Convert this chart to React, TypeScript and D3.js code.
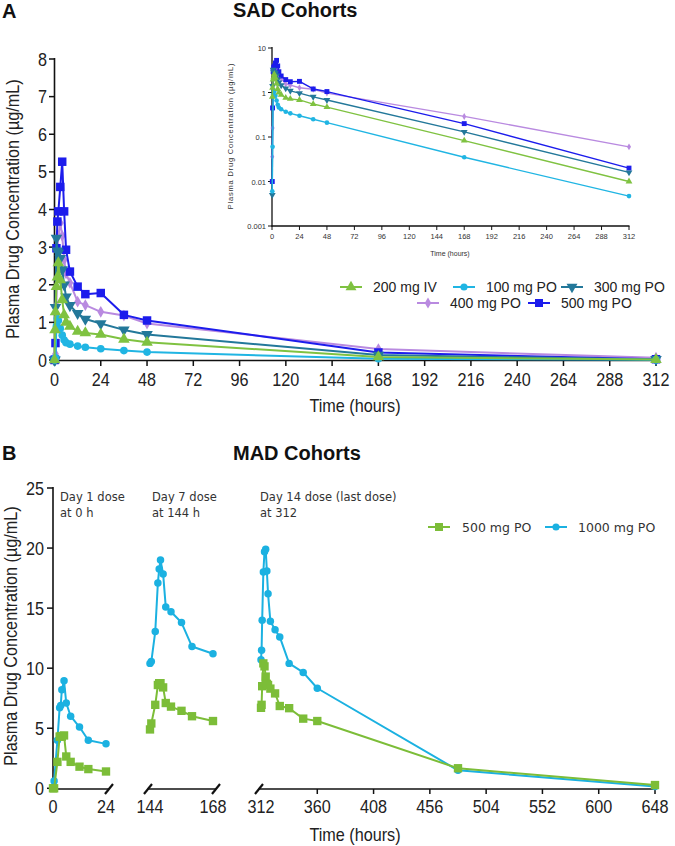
import React from 'react';
import * as d3 from 'd3';

// ---------- SAD data (panel A) ----------
const sadTimes = [0, 0.25, 0.5, 1, 1.5, 2, 3, 4, 5, 6, 8, 12, 16, 24, 36, 48, 168, 312];
const sad200IV = [0, 0.8, 1.28, 1.95, 2.2, 2.58, 2.13, 1.6, 1.2, 1.0, 0.89, 0.76, 0.72, 0.68, 0.55, 0.47, 0.083, 0.01];
const sad100PO = [0, 0.006, 0.06, 0.9, 1.1, 1.05, 0.84, 0.66, 0.53, 0.46, 0.42, 0.37, 0.34, 0.3, 0.25, 0.21, 0.035, 0.0047];
const sad300PO = [0, 0.005, 1.4, 3.24, 2.9, 2.85, 2.7, 2.4, 2.0, 1.68, 1.45, 1.24, 1.09, 0.97, 0.8, 0.68, 0.13, 0.016];
const sad400PO = [0, 0.036, 0.16, 1.45, 2.9, 3.3, 3.64, 3.3, 2.66, 2.3, 2.05, 1.55, 1.46, 1.28, 1.18, 0.97, 0.29, 0.06];
const sad500PO = [0, 0.01, 0.45, 2.97, 3.68, 3.95, 4.6, 5.27, 3.95, 2.93, 2.35, 1.95, 1.75, 1.78, 1.2, 1.05, 0.2, 0.02];
const sadXTicks = [0, 24, 48, 72, 96, 120, 144, 168, 192, 216, 240, 264, 288, 312];
const sadYTicks = [0, 1, 2, 3, 4, 5, 6, 7, 8];
const insetYTicks = [10, 1, 0.1, 0.01, 0.001];
const insetYLabels = ['10', '1', '0.1', '0.01', '0.001'];

// ---------- MAD data (panel B) ----------
const madDay1Times = [0, 0.5, 2, 3, 3.5, 4, 5, 6, 8, 12, 16, 24];
const madDay7Times = [144, 144.5, 146, 147, 147.5, 148, 149, 150, 152, 156, 160, 168];
const madDay14Times = [312, 312.5, 313, 314, 315, 316, 317, 318, 320, 324, 328, 336, 348, 360, 480, 648];
const mad500Day1 = [0, 0, 2.2, 4.3, 4.35, 4.3, 4.4, 2.65, 2.2, 1.8, 1.6, 1.4];
const mad1000Day1 = [0, 0.6, 4.0, 6.7, 6.9, 8.2, 8.95, 7.1, 6.0, 5.1, 4.0, 3.7];
const mad500Day7 = [4.9, 5.4, 6.95, 8.6, 8.75, 8.75, 8.4, 7.1, 6.8, 6.45, 6.0, 5.6];
const mad1000Day7 = [10.4, 10.55, 13.05, 17.1, 18.25, 19.0, 17.85, 15.1, 14.7, 13.8, 11.8, 11.2];
const mad500Day14 = [6.7, 6.95, 8.5, 10.4, 10.15, 9.3, 8.7, 8.6, 8.3, 7.9, 6.85, 6.67, 5.8, 5.6, 1.67, 0.27];
const mad1000Day14 = [10.7, 11.5, 14.0, 18.0, 19.7, 19.9, 18.1, 16.2, 13.9, 13.2, 12.6, 10.4, 9.65, 8.33, 1.5, 0.15];
const madYTicks = [0, 5, 10, 15, 20, 25];
const madSeg1Ticks = [0, 24];
const madSeg2Ticks = [144, 168];
const madSeg3Ticks = [312, 360, 408, 456, 504, 552, 600, 648];

const FONT = "'Liberation Sans', Arial, sans-serif";
const DJ = "'DejaVu Sans', Verdana, sans-serif";

const C = {
  green: '#7fc241',
  lblue: '#20b5e3',
  teal: '#23789a',
  purple: '#b98ae0',
  blue: '#1c1cec',
  bGreen: '#7cbd38',
  bBlue: '#1bb1e1',
};

type Sym = 'square' | 'circle' | 'triUp' | 'triDown' | 'diamond';
const symPath = (s: Sym, size: number) => {
  const t =
    s === 'square' ? d3.symbolSquare :
    s === 'circle' ? d3.symbolCircle :
    s === 'diamond' ? d3.symbolDiamond : d3.symbolTriangle;
  return d3.symbol().type(t).size(size)() as string;
};

const Marker = ({ x, y, s, size, color }: { x: number; y: number; s: Sym; size: number; color: string }) => (
  <path d={symPath(s, size)} fill={color} transform={`translate(${x},${y})${s === 'triDown' ? ' rotate(180)' : ''}`} />
);

const NT = ({ x, y, anchor = 'start', size = 18, sx = 0.9, rotate = 0, weight = 'normal', family = FONT, ls = 0, fill = '#222', children }: any) => (
  <text
    transform={`translate(${x},${y})${rotate ? ` rotate(${rotate})` : ''} scale(${sx},1)`}
    textAnchor={anchor}
    fontSize={size}
    fontFamily={family}
    fontWeight={weight}
    letterSpacing={ls}
    fill={fill}
  >
    {children}
  </text>
);

const Series = ({ times, values, xs, ys, color, s, size, lw, log = false }: any) => {
  const pts = times
    .map((t: number, i: number) => [t, values[i]])
    .filter((p: number[]) => (log ? p[1] > 0 : true));
  const line = d3.line<number[]>().x((p) => xs(p[0])).y((p) => ys(p[1]));
  return (
    <g>
      <path d={line(pts) as string} fill="none" stroke={color} strokeWidth={lw} strokeLinejoin="round" />
      {pts.map((p: number[], i: number) => (
        <Marker key={i} x={xs(p[0])} y={ys(p[1])} s={s} size={size} color={color} />
      ))}
    </g>
  );
};

export default function App() {
  // Panel A main
  const xA = d3.scaleLinear().domain([0, 312]).range([54.5, 656]);
  const yA = d3.scaleLinear().domain([0, 8]).range([360, 59]);
  // Inset
  const xI = d3.scaleLinear().domain([0, 312]).range([272, 629]);
  const yI = d3.scaleLog().domain([0.001, 10]).range([226, 48]);
  // Panel B
  const yB = d3.scaleLinear().domain([0, 25]).range([788.3, 488]);
  const xB1 = d3.scaleLinear().domain([0, 24]).range([53, 106]);
  const xB2 = d3.scaleLinear().domain([144, 168]).range([150, 213]);
  const xB3 = d3.scaleLinear().domain([312, 648]).range([261, 655]);

  const sadSeries = [
    { v: sad400PO, c: C.purple, s: 'diamond', size: 40, si: 14 },
    { v: sad500PO, c: C.blue, s: 'square', size: 72, si: 24 },
    { v: sad300PO, c: C.teal, s: 'triDown', size: 58, si: 20 },
    { v: sad100PO, c: C.lblue, s: 'circle', size: 46, si: 17 },
    { v: sad200IV, c: C.green, s: 'triUp', size: 58, si: 20 },
  ];

  const legendA = [
    { x: 351, y: 287, c: C.green, s: 'triUp', size: 52, label: '200 mg IV' },
    { x: 464, y: 287, c: C.lblue, s: 'circle', size: 40, label: '100 mg PO' },
    { x: 572, y: 287, c: C.teal, s: 'triDown', size: 52, label: '300 mg PO' },
    { x: 428, y: 303, c: C.purple, s: 'diamond', size: 36, label: '400 mg PO' },
    { x: 539, y: 303, c: C.blue, s: 'square', size: 64, label: '500 mg PO' },
  ];

  const axB = 789;
  const slash = (x: number, key: string) => (
    <line key={key} x1={x - 4} y1={axB + 5} x2={x + 4} y2={axB - 5} stroke="#111" strokeWidth={2.2} />
  );

  return (
    <svg width={675} height={846} style={{ position: 'absolute', left: 0, top: 0, background: '#fff' }}>
      <rect width={675} height={846} fill="#fff" />
      {/* ================= Panel A ================= */}
      <text x={2} y={18} fontSize={20} fontWeight="bold" fontFamily={FONT} fill="#111">A</text>
      <text x={233} y={17} fontSize={20} fontWeight="bold" fontFamily={FONT} fill="#111">SAD Cohorts</text>

      {/* axes */}
      <line x1={54.5} y1={58} x2={54.5} y2={361} stroke="#111" strokeWidth={1.6} />
      <line x1={54} y1={360.5} x2={656} y2={360.5} stroke="#111" strokeWidth={1.6} />
      {sadYTicks.map((t) => (
        <g key={'ya' + t}>
          <line x1={49} x2={54.5} y1={yA(t)} y2={yA(t)} stroke="#111" strokeWidth={1.5} />
          <NT x={47} y={yA(t) + 6.5} anchor="end">{t}</NT>
        </g>
      ))}
      {sadXTicks.map((t) => (
        <g key={'xa' + t}>
          <line x1={xA(t)} x2={xA(t)} y1={360.5} y2={366} stroke="#111" strokeWidth={1.5} />
          <NT x={xA(t)} y={386} anchor="middle">{t}</NT>
        </g>
      ))}
      <NT x={355} y={412} anchor="middle">Time (hours)</NT>
      <NT x={19} y={209} anchor="middle" rotate={-90}>Plasma Drug Concentration (µg/mL)</NT>

      {sadSeries.map((d, i) => (
        <Series key={'sa' + i} times={sadTimes} values={d.v} xs={xA} ys={yA} color={d.c} s={d.s} size={d.size} lw={2} />
      ))}

      {/* Legend A */}
      {legendA.map((l, i) => (
        <g key={'la' + i}>
          <line x1={l.x - 11} x2={l.x + 11} y1={l.y} y2={l.y} stroke={l.c} strokeWidth={2} />
          <Marker x={l.x} y={l.y} s={l.s as Sym} size={l.size} color={l.c} />
          <text x={l.x + 22} y={l.y + 5} fontSize={14} fontFamily={FONT} fill="#222">{l.label}</text>
        </g>
      ))}

      {/* Inset */}
      <line x1={272} y1={47} x2={272} y2={226.5} stroke="#111" strokeWidth={1.3} />
      <line x1={271.5} y1={226} x2={629.5} y2={226} stroke="#111" strokeWidth={1.3} />
      {insetYTicks.map((t, i) => (
        <g key={'yi' + t}>
          <line x1={268} x2={272} y1={yI(t)} y2={yI(t)} stroke="#111" strokeWidth={1} />
          <text x={266} y={yI(t) + 3} fontSize={7.5} textAnchor="end" fontFamily={FONT} fill="#333">{insetYLabels[i]}</text>
        </g>
      ))}
      {sadXTicks.map((t) => (
        <g key={'xi' + t}>
          <line x1={xI(t)} x2={xI(t)} y1={226} y2={230} stroke="#111" strokeWidth={1} />
          <text x={xI(t)} y={239} fontSize={7.5} textAnchor="middle" fontFamily={FONT} fill="#333">{t}</text>
        </g>
      ))}
      <text x={450} y={256} fontSize={7} textAnchor="middle" fontFamily={FONT} fill="#333">Time (hours)</text>
      <text transform="translate(233,136) rotate(-90)" fontSize={7.5} textAnchor="middle" fontFamily={FONT} fill="#333" letterSpacing={0.8}>Plasma Drug Concentration (µg/mL)</text>
      {sadSeries.map((d, i) => (
        <Series key={'si' + i} times={sadTimes} values={d.v} xs={xI} ys={yI} color={d.c} s={d.s} size={d.si} lw={1.4} log />
      ))}

      {/* ================= Panel B ================= */}
      <text x={2} y={460} fontSize={20} fontWeight="bold" fontFamily={FONT} fill="#111">B</text>
      <text x={233} y={460} fontSize={20} fontWeight="bold" fontFamily={FONT} fill="#111">MAD Cohorts</text>

      <line x1={53} y1={487} x2={53} y2={789.5} stroke="#111" strokeWidth={1.6} />
      {madYTicks.map((t) => (
        <g key={'yb' + t}>
          <line x1={47} x2={53} y1={yB(t)} y2={yB(t)} stroke="#111" strokeWidth={1.5} />
          <NT x={44} y={yB(t) + 6.5} anchor="end">{t}</NT>
        </g>
      ))}
      {/* segmented x axis */}
      <line x1={53} x2={109} y1={axB} y2={axB} stroke="#111" strokeWidth={1.6} />
      <line x1={148} x2={216} y1={axB} y2={axB} stroke="#111" strokeWidth={1.6} />
      <line x1={259} x2={656} y1={axB} y2={axB} stroke="#111" strokeWidth={1.6} />
      {slash(109, 's1')}
      {slash(148, 's2')}
      {slash(216, 's3')}
      {slash(259, 's4')}
      {madSeg1Ticks.map((t) => (
        <NT key={'b1' + t} x={xB1(t)} y={813} anchor="middle">{t}</NT>
      ))}
      {madSeg2Ticks.map((t) => (
        <NT key={'b2' + t} x={xB2(t)} y={813} anchor="middle">{t}</NT>
      ))}
      {madSeg3Ticks.map((t) => (
        <g key={'b3' + t}>
          {t !== 312 && <line x1={xB3(t)} x2={xB3(t)} y1={axB} y2={axB + 5} stroke="#111" strokeWidth={1.5} />}
          <NT x={xB3(t)} y={813} anchor="middle">{t}</NT>
        </g>
      ))}
      <NT x={355} y={841} anchor="middle">Time (hours)</NT>
      <NT x={17} y={636} anchor="middle" rotate={-90}>Plasma Drug Concentration (µg/mL)</NT>

      {/* annotations */}
      <text x={60} y={501} fontSize={11.5} fontFamily={DJ} fill="#333">Day 1 dose</text>
      <text x={60} y={517} fontSize={11.5} fontFamily={DJ} fill="#333">at 0 h</text>
      <text x={152} y={501} fontSize={11.5} fontFamily={DJ} fill="#333">Day 7 dose</text>
      <text x={152} y={517} fontSize={11.5} fontFamily={DJ} fill="#333">at 144 h</text>
      <text x={260} y={501} fontSize={11.5} fontFamily={DJ} fill="#333">Day 14 dose (last dose)</text>
      <text x={260} y={517} fontSize={11.5} fontFamily={DJ} fill="#333">at 312</text>

      {/* MAD series: blue first, green on top */}
      <Series times={madDay1Times} values={mad1000Day1} xs={xB1} ys={yB} color={C.bBlue} s="circle" size={44} lw={2} />
      <Series times={madDay7Times} values={mad1000Day7} xs={xB2} ys={yB} color={C.bBlue} s="circle" size={44} lw={2} />
      <Series times={madDay14Times} values={mad1000Day14} xs={xB3} ys={yB} color={C.bBlue} s="circle" size={44} lw={2} />
      <Series times={madDay1Times} values={mad500Day1} xs={xB1} ys={yB} color={C.bGreen} s="square" size={70} lw={2} />
      <Series times={madDay7Times} values={mad500Day7} xs={xB2} ys={yB} color={C.bGreen} s="square" size={70} lw={2} />
      <Series times={madDay14Times} values={mad500Day14} xs={xB3} ys={yB} color={C.bGreen} s="square" size={70} lw={2} />

      {/* Legend B */}
      <line x1={428} x2={450} y1={527} y2={527} stroke={C.bGreen} strokeWidth={2} />
      <Marker x={439} y={527} s="square" size={64} color={C.bGreen} />
      <text x={462} y={532} fontSize={12.5} fontFamily={DJ} fill="#333">500 mg PO</text>
      <line x1={545} x2={567} y1={527} y2={527} stroke={C.bBlue} strokeWidth={2} />
      <Marker x={556} y={527} s="circle" size={40} color={C.bBlue} />
      <text x={578} y={532} fontSize={12.5} fontFamily={DJ} fill="#333">1000 mg PO</text>
    </svg>
  );
}
